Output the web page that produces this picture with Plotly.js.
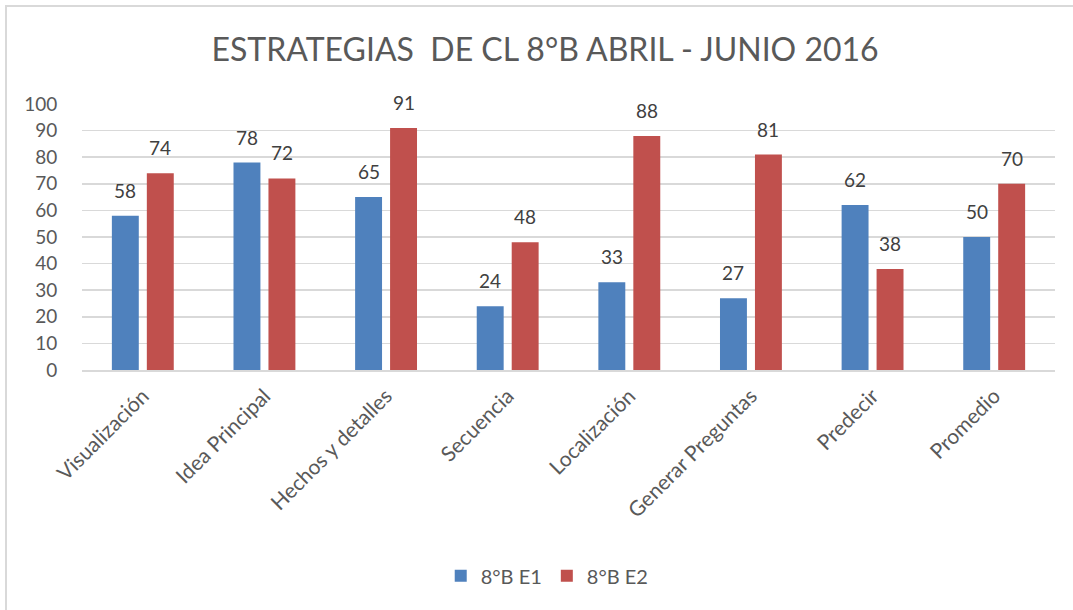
<!DOCTYPE html>
<html>
<head>
<meta charset="utf-8">
<script src="https://cdn.plot.ly/plotly-3.0.1.min.js"></script>
<style>
  html, body { margin: 0; padding: 0; background: #fff; overflow: hidden; }
  #frame { position: absolute; left: 5px; top: 5px; width: 1080px; height: 620px; border-left: 2px solid #d9d9d9; border-top: 2px solid #d9d9d9; }
  #chart { position: absolute; left: 0; top: 0; width: 1073px; height: 610px; }
</style>
</head>
<body>
<div id="frame"></div>
<div id="chart"></div>
<script>
const categories = ["Visualización", "Idea Principal", "Hechos y detalles", "Secuencia", "Localización", "Generar Preguntas", "Predecir", "Promedio"];
const seriesE1 = [58, 78, 65, 24, 33, 27, 62, 50];
const seriesE2 = [74, 72, 91, 48, 88, 81, 38, 70];
const seriesNames = ["8°B E1", "8°B E2"];
const yTicks = [0, 10, 20, 30, 40, 50, 60, 70, 80, 90, 100];

const FONT = "Lato, 'Open Sans', sans-serif";
const TXT = "#595959";

const traces = [
  { type: "bar", name: seriesNames[0], x: categories, y: seriesE1, marker: { color: "#4f81bd" }, hoverinfo: "skip" },
  { type: "bar", name: seriesNames[1], x: categories, y: seriesE2, marker: { color: "#c0504d" }, hoverinfo: "skip" }
];

const annotations = [];
[seriesE1, seriesE2].forEach((s, k) => {
  s.forEach((v, i) => {
    annotations.push({
      x: categories[i], y: v, xref: "x", yref: "y",
      text: String(v), showarrow: false,
      xanchor: "center", yanchor: "bottom",
      xshift: k === 0 ? -17.5 : 17.5, yshift: 12,
      font: { family: FONT, size: 19, color: "#404040" }
    });
  });
});

const layout = {
  width: 1073, height: 610,
  paper_bgcolor: "rgba(0,0,0,0)", plot_bgcolor: "rgba(0,0,0,0)",
  margin: { l: 82, r: 18, t: 104, b: 240 },
  title: { text: "ESTRATEGIAS\u00a0 DE CL 8°B ABRIL - JUNIO 2016", font: { family: FONT, size: 32, color: TXT }, x: 0.508, xanchor: "center", y: 0.918, yanchor: "middle", yref: "container" },
  barmode: "group", bargap: 0.425, bargroupgap: 0.23,
  xaxis: {
    type: "category", tickangle: -45, showgrid: false, zeroline: false,
    showline: true, linecolor: "#d9d9d9", linewidth: 1.5,
    ticks: "outside", ticklen: 4, tickcolor: "rgba(0,0,0,0)",
    tickfont: { family: FONT, size: 21, color: TXT }
  },
  yaxis: {
    range: [0, 100], tickvals: yTicks, showgrid: true, gridcolor: "#d9d9d9", gridwidth: 1.5,
    zeroline: false, showline: false,
    ticks: "outside", ticklen: 20, tickcolor: "rgba(0,0,0,0)",
    tickfont: { family: FONT, size: 19, color: TXT }
  },
  showlegend: true,
  legend: { orientation: "h", x: 0.51, xanchor: "center", xref: "container", y: 0.056, yanchor: "middle", yref: "container",
    font: { family: FONT, size: 20, color: TXT }, itemwidth: 30, traceorder: "normal" },
  annotations: annotations
};

Plotly.newPlot("chart", traces, layout, { displayModeBar: false, staticPlot: true });
</script>
</body>
</html>
